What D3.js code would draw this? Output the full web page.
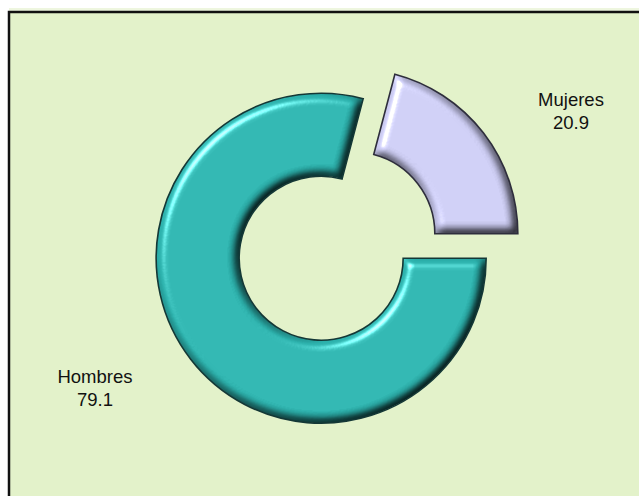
<!DOCTYPE html>
<html>
<head>
<meta charset="utf-8">
<script src="https://cdn.jsdelivr.net/npm/d3@7"></script>
<style>
  html, body { margin: 0; padding: 0; background: #ffffff; }
  svg { display: block; }
</style>
</head>
<body>
<script>
// ---- data ----
const categories = ["Hombres", "Mujeres"];
const values = [79.1, 20.9];
const valueLabels = ["79.1", "20.9"];

// ---- layout / style ----
const W = 639, H = 496;
const cx = 337, cy = 246;
const rOuter = 165, rInner = 82;
const explode = 20;
const fills = ["#2bb0ab", "#c8c8ee"];
const strokes = ["#143836", "#2e2e3c"];
const labelPos = [[95, 383], [571, 106]];

const svg = d3.select("body").append("svg")
  .attr("width", W).attr("height", H);

const defs = svg.append("defs");
const f = defs.append("filter").attr("id", "bevel")
  .attr("color-interpolation-filters", "sRGB")
  .attr("x", "-10%").attr("y", "-10%").attr("width", "120%").attr("height", "120%");
f.append("feGaussianBlur").attr("in", "SourceAlpha").attr("stdDeviation", 5).attr("result", "blur");
f.append("feDiffuseLighting").attr("in", "blur").attr("surfaceScale", 7)
  .attr("diffuseConstant", 1.155).attr("lighting-color", "#fff").attr("result", "diff")
  .append("feDistantLight").attr("azimuth", 225).attr("elevation", 60);
f.append("feSpecularLighting").attr("in", "blur").attr("surfaceScale", 7)
  .attr("specularConstant", 0.8).attr("specularExponent", 30).attr("lighting-color", "#fff").attr("result", "spec")
  .append("feDistantLight").attr("azimuth", 225).attr("elevation", 40);
f.append("feComposite").attr("in", "SourceGraphic").attr("in2", "diff")
  .attr("operator", "arithmetic").attr("k1", 1).attr("k2", 0).attr("k3", 0).attr("k4", 0).attr("result", "lit");
f.append("feComposite").attr("in", "spec").attr("in2", "SourceAlpha").attr("operator", "in").attr("result", "specIn");
f.append("feComposite").attr("in", "lit").attr("in2", "specIn")
  .attr("operator", "arithmetic").attr("k1", 0).attr("k2", 1).attr("k3", 0.8).attr("k4", 0).attr("result", "out");
f.append("feComposite").attr("in", "out").attr("in2", "SourceAlpha").attr("operator", "in");

// background strip above panel and panel
svg.append("rect").attr("x", 9).attr("y", 8).attr("width", W).attr("height", 4).attr("fill", "#eef6df");
svg.append("rect")
  .attr("x", 9).attr("y", 12).attr("width", W + 10).attr("height", H + 10)
  .attr("fill", "#e3f2ca").attr("stroke", "#111").attr("stroke-width", 2.5);

const pie = d3.pie().sort(null).value(d => d)
  .startAngle(Math.PI / 2).endAngle(Math.PI / 2 + 2 * Math.PI);
const arcs = pie(values);
const arc = d3.arc().innerRadius(rInner).outerRadius(rOuter);

const g = svg.append("g").attr("transform", `translate(${cx},${cy})`);
const slices = g.selectAll("g.slice").data(arcs).join("g")
  .attr("class", "slice")
  .attr("transform", d => {
    const a = (d.startAngle + d.endAngle) / 2;
    return `translate(${explode * Math.sin(a)},${-explode * Math.cos(a)})`;
  });
slices.append("path").attr("d", arc).attr("fill", (d, i) => fills[i]).attr("filter", "url(#bevel)");
slices.append("path").attr("d", arc).attr("fill", "none")
  .attr("stroke", (d, i) => strokes[i]).attr("stroke-width", 1.6).attr("stroke-linejoin", "miter");

// labels
const lab = svg.selectAll("text.lab").data(categories).join("text")
  .attr("class", "lab")
  .attr("x", (d, i) => labelPos[i][0]).attr("y", (d, i) => labelPos[i][1])
  .attr("text-anchor", "middle")
  .attr("font-family", "Liberation Sans, Arial, sans-serif")
  .attr("font-size", 18.5).attr("fill", "#111");
lab.append("tspan").text(d => d);
lab.append("tspan").attr("x", (d, i) => labelPos[i][0]).attr("dy", 22.5).text((d, i) => valueLabels[i]);
</script>
</body>
</html>
